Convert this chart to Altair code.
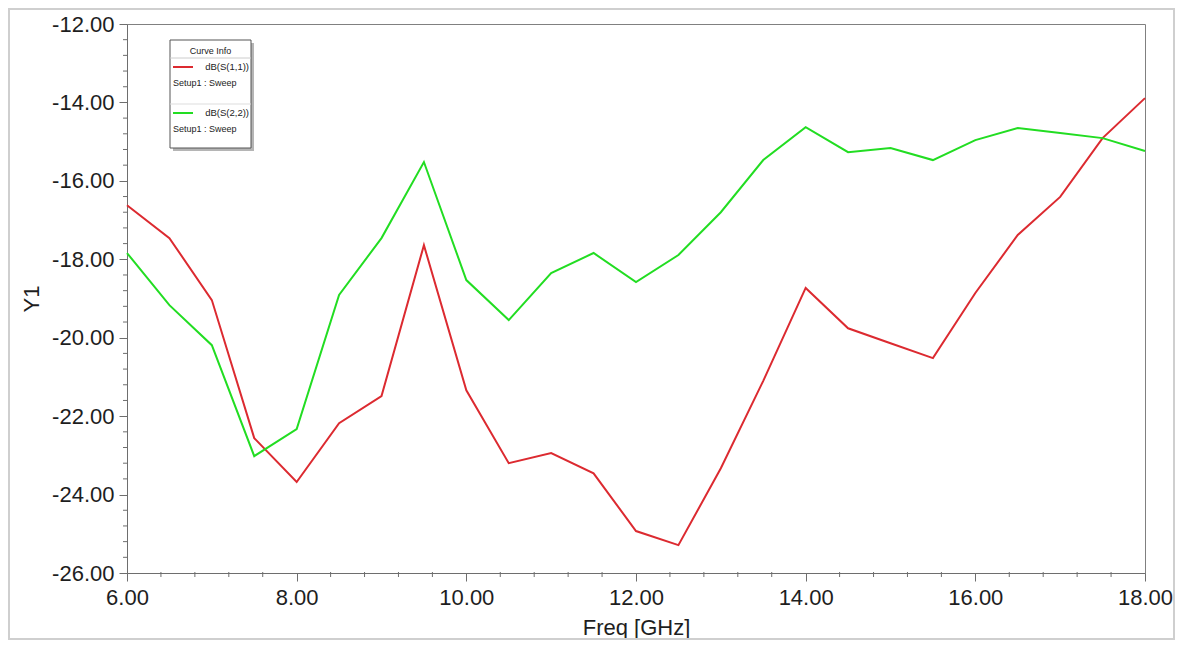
import altair as alt
import pandas as pd
import numpy as np

# ---- data ----
freq = [6.0, 6.5, 7.0, 7.5, 8.0, 8.5, 9.0, 9.5, 10.0, 10.5, 11.0, 11.5, 12.0,
        12.5, 13.0, 13.5, 14.0, 14.5, 15.0, 15.5, 16.0, 16.5, 17.0, 17.5, 18.0]
s11 = [-16.62, -17.46, -19.04, -22.56, -23.68, -22.18, -21.49, -17.64, -21.34,
       -23.20, -22.94, -23.46, -24.93, -25.29, -23.33, -21.10, -18.73, -19.76,
       -20.14, -20.52, -18.86, -17.38, -16.41, -14.91, -13.89]
s22 = [-17.84, -19.17, -20.19, -23.02, -22.33, -18.91, -17.46, -15.52, -18.53,
       -19.55, -18.35, -17.84, -18.58, -17.89, -16.80, -15.47, -14.63, -15.27,
       -15.16, -15.47, -14.96, -14.65, -14.78, -14.91, -15.24]
series_names = ["dB(S(1,1))", "dB(S(2,2))"]
series_colors = ["#dc2a30", "#22dd22"]
setup_label = "Setup1 : Sweep"
legend_title = "Curve Info"
x_ticks = [6, 8, 10, 12, 14, 16, 18]
y_ticks = [-26, -24, -22, -20, -18, -16, -14, -12]
x_minor = [v for v in np.round(np.arange(6, 18.001, 0.4), 2) if abs(v / 2 - round(v / 2)) > 1e-6]
y_minor = [v for v in np.round(np.arange(-26, -11.999, 0.4), 2) if abs(v / 2 - round(v / 2)) > 1e-6]

W, H = 1018, 549
FONT = "Liberation Sans"
AXC = "#6e6e6e"

df = pd.DataFrame({
    "freq": freq * 2,
    "val": s11 + s22,
    "series": [series_names[0]] * len(freq) + [series_names[1]] * len(freq),
})

xscale = alt.Scale(domain=[6, 18], nice=False, zero=False)
yscale = alt.Scale(domain=[-26, -12], nice=False, zero=False)
xaxis = alt.Axis(values=x_ticks, format=".2f", title="Freq [GHz]", labelFlush=False,
                 labelPadding=6, titlePadding=9)
yaxis = alt.Axis(values=y_ticks, title="Y1", labelFlush=False,
                 labelExpr="(datum.value < 0 ? '-' : '') + format(abs(datum.value), '.2f')",
                 labelPadding=5, titlePadding=8)

lines = alt.Chart(df).mark_line(strokeWidth=2).encode(
    x=alt.X("freq:Q", scale=xscale, axis=xaxis),
    y=alt.Y("val:Q", scale=yscale, axis=yaxis),
    color=alt.Color("series:N", scale=alt.Scale(domain=series_names, range=series_colors), legend=None),
    detail="series:N",
)

ym = alt.Chart(pd.DataFrame({"val": y_minor})).mark_rule(color=AXC, strokeWidth=1).encode(
    y=alt.Y("val:Q", scale=yscale, axis=yaxis), x=alt.value(-4), x2=alt.value(1))
xm = alt.Chart(pd.DataFrame({"freq": x_minor})).mark_rule(color=AXC, strokeWidth=1).encode(
    x=alt.X("freq:Q", scale=xscale, axis=xaxis), y=alt.value(H - 1), y2=alt.value(H + 4))

one = pd.DataFrame({"k": [0]})
frame = alt.Chart(one).mark_rect(fillOpacity=0, stroke="#cfcfcf", strokeWidth=2).encode(
    x=alt.value(-118), x2=alt.value(1047), y=alt.value(-15), y2=alt.value(615))

# legend box (Curve Info)
LX0, LX1, LY0, LY1 = 43, 124, 16, 124
shadow = alt.Chart(one).mark_rect(fill="#b5b5b5").encode(
    x=alt.value(LX0 + 3), x2=alt.value(LX1 + 3), y=alt.value(LY0 + 3), y2=alt.value(LY1 + 3))
box = alt.Chart(one).mark_rect(fill="white", stroke="#555555", strokeWidth=1).encode(
    x=alt.value(LX0), x2=alt.value(LX1), y=alt.value(LY0), y2=alt.value(LY1))
ltitle = alt.Chart(one).mark_text(font=FONT, fontSize=9, color="#222", align="center", baseline="middle").encode(
    x=alt.value((LX0 + LX1) / 2), y=alt.value(27), text=alt.value(legend_title))
div1 = alt.Chart(one).mark_rule(color="#cccccc").encode(
    x=alt.value(LX0), x2=alt.value(LX1), y=alt.value(34))
div2 = alt.Chart(one).mark_rule(color="#dddddd").encode(
    x=alt.value(LX0), x2=alt.value(LX1), y=alt.value(80))

leg_layers = []
for i, (nm, col) in enumerate(zip(series_names, series_colors)):
    yy = 43 + i * 46
    leg_layers.append(alt.Chart(one).mark_rule(color=col, strokeWidth=2).encode(
        x=alt.value(46), x2=alt.value(66), y=alt.value(yy)))
    leg_layers.append(alt.Chart(one).mark_text(font=FONT, fontSize=9.5, color="#222", align="right", baseline="middle").encode(
        x=alt.value(LX1 - 2), y=alt.value(yy), text=alt.value(nm)))
    leg_layers.append(alt.Chart(one).mark_text(font=FONT, fontSize=9, color="#222", align="left", baseline="middle").encode(
        x=alt.value(46), y=alt.value(yy + 16), text=alt.value(setup_label)))

chart = alt.layer(frame, ym, xm, lines, shadow, box, ltitle, div1, div2, *leg_layers).properties(
    width=W, height=H,
    autosize=alt.AutoSizeParams(type="none"),
    padding={"left": 119, "top": 16, "right": 31, "bottom": 67},
    background="white",
).configure_view(
    stroke="#808080", strokeWidth=1
).configure_axis(
    grid=False,
    domainColor=AXC, tickColor=AXC, tickSize=8, domainWidth=1, tickWidth=1,
    labelFont=FONT, labelFontSize=22, labelColor="#1e1e1e",
    titleFont=FONT, titleFontSize=22, titleFontWeight="normal", titleColor="#1e1e1e",
)

chart.save("out.html", embed_options={"renderer": "svg", "actions": False})
